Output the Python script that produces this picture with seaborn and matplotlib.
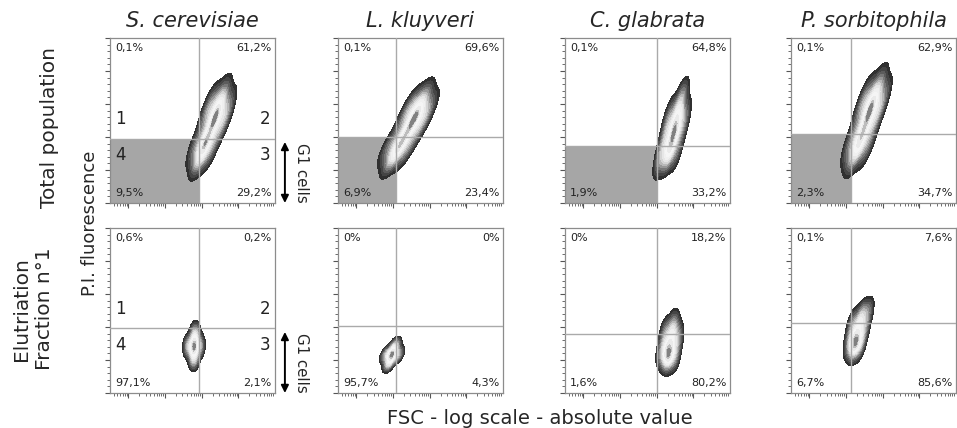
import numpy as np
import matplotlib
matplotlib.use('Agg')
import matplotlib.pyplot as plt
from matplotlib.patches import Rectangle
from matplotlib.colors import ListedColormap, BoundaryNorm
import seaborn as sns

species = ['S. cerevisiae', 'L. kluyveri', 'C. glabrata', 'P. sorbitophila']
rows = ['Total population', 'Elutriation\nFraction n°1']

# quadrant gates (log10 FSC, P.I.)
gate_fsc = [2.94, 2.08, 3.02, 2.13]
gate_pi = [[97, 100, 87, 105], [98, 101, 89, 106]]

# quadrant percentages: upper-left, upper-right, lower-left, lower-right
pct_total = [['0,1%', '61,2%', '9,5%', '29,2%'],
             ['0,1%', '69,6%', '6,9%', '23,4%'],
             ['0,1%', '64,8%', '1,9%', '33,2%'],
             ['0,1%', '62,9%', '2,3%', '34,7%']]
pct_elut = [['0,6%', '0,2%', '97,1%', '2,1%'],
            ['0%', '0%', '95,7%', '4,3%'],
            ['0%', '18,2%', '1,6%', '80,2%'],
            ['0,1%', '7,6%', '6,7%', '85,6%']]

# events (log10 FSC, P.I., weight)
fsc_total = [[3.04, 2.85, 3.23, 2.96, 3.15, 3.20, 3.39, 3.17, 3.61, 3.28, 3.50, 3.47, 3.26, 3.69, 3.56],
             [2.14, 1.92, 2.36, 2.03, 2.27, 2.38, 2.60, 2.38, 2.82, 2.49, 2.71, 2.71, 2.49, 2.93, 2.79],
             [3.34, 3.15, 3.53, 3.12, 3.42, 3.45, 3.50, 3.31, 3.69, 3.56, 3.36, 3.75, 3.64, 3.69, 3.26],
             [2.36, 2.14, 2.57, 2.22, 2.46, 2.52, 2.66, 2.44, 2.87, 2.55, 2.76, 2.79, 2.57, 3.01, 2.90]]
pi_total = [[83, 87, 80, 72, 94, 107, 132, 136, 129, 118, 114, 150, 153, 147, 165],
            [84, 87, 81, 72, 95, 107, 130, 133, 128, 116, 113, 148, 150, 144, 160],
            [79, 80, 77, 68, 91, 100, 114, 116, 114, 133, 135, 132, 151, 163, 103],
            [90, 92, 88, 78, 105, 119, 143, 145, 141, 126, 124, 162, 164, 160, 180]]
w_total = [[6, 2.5, 2.5, 2, 2, 1.2, 7, 2.5, 2.5, 1.5, 1.5, 3, 1.5, 1.5, 1.2],
           [6, 2.5, 2.5, 2, 2, 1.2, 7, 2.5, 2.5, 1.5, 1.5, 3, 1.5, 1.5, 1.2],
           [6, 2, 2, 2, 2, 1.2, 7, 2, 2, 3, 1.5, 1.5, 2, 1.2, 1.2],
           [6, 2.5, 2.5, 2, 2, 1.2, 7, 2.5, 2.5, 1.5, 1.5, 3, 1.5, 1.5, 1.2]]

fsc_elut = [[2.79, 2.79, 2.82, 2.63, 2.95],
            [1.89, 1.97, 2.05, 1.81, 2.14],
            [3.31, 3.15, 3.47, 3.36, 3.20, 3.53, 3.42, 3.25, 3.58, 3.47],
            [2.25, 2.11, 2.38, 2.27, 2.14, 2.44, 2.36, 2.19, 2.52, 2.44, 2.60]]
pi_elut = [[53, 71, 89, 71, 71],
           [45, 58, 71, 58, 58],
           [56, 59, 53, 73, 76, 71, 91, 94, 88, 106],
           [73, 75, 70, 86, 91, 86, 105, 108, 103, 120, 123]]
w_elut = [[2, 4, 2, 1.5, 1.5],
          [2, 4, 2, 1.5, 1.5],
          [6, 2, 2, 3, 1.5, 1.5, 2.5, 1.5, 1.5, 1.5],
          [6, 2, 2, 3, 1.5, 1.5, 2.5, 1.5, 1.5, 2, 1.5]]

sns.set_style('white')
plt.rcParams['font.family'] = ['DejaVu Sans']

# iso-proportion levels and one grey per band, rim to peak
kde_levels = [0.03, 0.06, 0.1, 0.15, 0.21, 0.28, 0.36, 0.45, 0.55, 0.66, 0.78, 0.9, 0.96, 1.0]
band_greys = ['#303030', '#454545', '#5c5c5c', '#787878', '#979797', '#b8b8b8', '#d4d4d4',
              '#e6e6e6', '#f0f0f0', '#f5f5f5', '#eaeaea', '#bdbdbd', '#808080']
band_cmap = ListedColormap(band_greys)

W, H = 957, 428
fig = plt.figure(figsize=(W / 100, H / 100), dpi=100)
lefts = [110, 338, 565, 791]
tops = [38, 228]
size = 165
xlim = (0.5, 5.0)
ylim = (0, 250)

minor_x = [d + np.log10(k) for d in range(0, 5) for k in range(2, 10)]
minor_x = [m for m in minor_x if xlim[0] < m < xlim[1]]

for r in range(2):
    fsc_all = fsc_total if r == 0 else fsc_elut
    pi_all = pi_total if r == 0 else pi_elut
    w_all = w_total if r == 0 else w_elut
    pct_all = pct_total if r == 0 else pct_elut
    for c in range(4):
        ax = fig.add_axes([lefts[c] / W, 1 - (tops[r] + size) / H, size / W, size / H])
        gx, gy = gate_fsc[c], gate_pi[r][c]
        if r == 0:
            ax.add_patch(Rectangle((xlim[0], ylim[0]), gx - xlim[0], gy - ylim[0],
                                   facecolor='#a6a6a6', edgecolor='none', zorder=1))
        sns.kdeplot(x=fsc_all[c], y=pi_all[c], weights=w_all[c], fill=True,
                    levels=kde_levels, cmap=band_cmap, bw_adjust=1.0, ax=ax, zorder=2)
        # one grey per contour band
        cs = ax.collections[-1]
        cs.set_norm(BoundaryNorm(cs.levels, len(band_greys)))
        ax.axvline(gx, color='#aaaaaa', lw=1, zorder=3)
        ax.axhline(gy, color='#aaaaaa', lw=1, zorder=3)
        ax.set_xlim(*xlim)
        ax.set_ylim(*ylim)
        ax.set_xticks([1, 2, 3, 4])
        ax.set_xticks(minor_x, minor=True)
        ax.set_yticks(range(0, 251, 50))
        ax.set_yticks(range(0, 251, 10), minor=True)
        ax.tick_params(which='major', direction='out', length=3.5, width=0.8,
                       color='#555555', labelleft=False, labelbottom=False,
                       left=True, bottom=True)
        ax.tick_params(which='minor', direction='out', length=2, width=0.6,
                       color='#555555', left=True, bottom=True)
        ax.set_xlabel('')
        ax.set_ylabel('')
        for s in ax.spines.values():
            s.set_color('#8c8c8c')
            s.set_linewidth(0.9)
        ul, ur, ll, lr = pct_all[c]
        kw = dict(transform=ax.transAxes, fontsize=8, color='#222222', va='center', zorder=4)
        ax.text(0.03, 0.94, ul, ha='left', **kw)
        ax.text(0.98, 0.94, ur, ha='right', **kw)
        ax.text(0.03, 0.06, ll, ha='left', **kw)
        ax.text(0.98, 0.06, lr, ha='right', **kw)
        if r == 0:
            ax.set_title(species[c], fontsize=15, style='italic', pad=8)
        if c == 0:
            fy = (gy - ylim[0]) / (ylim[1] - ylim[0])
            nkw = dict(transform=ax.transAxes, fontsize=12, color='#222222', va='center')
            ax.text(0.03, fy + 0.12, '1', ha='left', **nkw)
            ax.text(0.97, fy + 0.12, '2', ha='right', **nkw)
            ax.text(0.03, fy - 0.10, '4', ha='left', **nkw)
            ax.text(0.97, fy - 0.10, '3', ha='right', **nkw)
            ax.annotate('', xy=(1.06, 0.0), xytext=(1.06, 0.37), xycoords='axes fraction',
                        textcoords='axes fraction', annotation_clip=False,
                        arrowprops=dict(arrowstyle='<|-|>', color='black', lw=1.4,
                                        mutation_scale=11, shrinkA=0, shrinkB=0))
            ax.text(1.16, 0.185, 'G1 cells', transform=ax.transAxes, rotation=-90,
                    fontsize=10.8, ha='center', va='center')

fig.text(50 / W, 1 - 128 / H, rows[0], rotation=90, fontsize=14.5, ha='center', va='center')
fig.text(33 / W, 1 - 309 / H, rows[1], rotation=90, fontsize=14.5, ha='center', va='center',
         linespacing=1.2)
fig.text(90 / W, 1 - 223 / H, 'P.I. fluorescence', rotation=90, fontsize=13,
         ha='center', va='center')
fig.text(540 / W, 1 - 418 / H, 'FSC - log scale - absolute value', fontsize=14,
         ha='center', va='center')

fig.savefig('out.png', dpi=100)
